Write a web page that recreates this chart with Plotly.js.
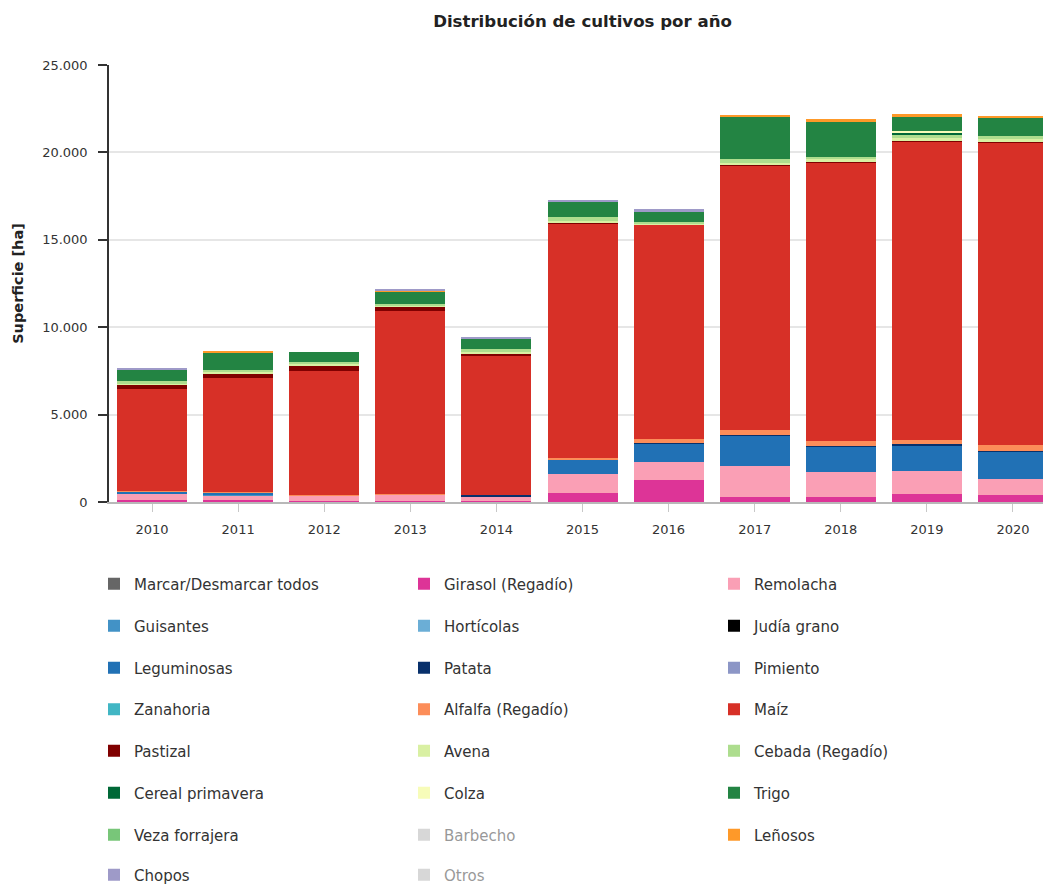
<!DOCTYPE html>
<html>
<head>
<meta charset="utf-8">
<script src="https://cdn.plot.ly/plotly-3.0.1.min.js"></script>
<style>
html,body{margin:0;padding:0;overflow:hidden;background:#fff;}
#chart{width:1070px;height:884px;}
</style>
</head>
<body>
<div id="chart"></div>
<script>
// ---- data ----
const years = ['2010','2011','2012','2013','2014','2015','2016','2017','2018','2019','2020'];

const girasol      = [90, 100, 50, 50, 70, 530, 1270, 275, 275, 430, 410];
const remolacha    = [380, 300, 300, 360, 260, 1070, 1010, 1775, 1430, 1335, 895];
const guisantes    = [40, 45, 0, 0, 0, 0, 0, 0, 0, 0, 0];
const horticolas   = [0, 0, 0, 0, 0, 0, 0, 0, 0, 0, 0];
const judia        = [0, 0, 0, 0, 0, 0, 0, 0, 0, 0, 0];
const leguminosas  = [70, 70, 0, 0, 0, 800, 1070, 1775, 1455, 1490, 1585];
const patata       = [0, 0, 0, 0, 55, 0, 40, 30, 35, 55, 55];
const pimiento     = [0, 0, 0, 0, 0, 0, 0, 0, 0, 0, 0];
const zanahoria    = [0, 0, 0, 0, 0, 0, 0, 0, 0, 0, 0];
const alfalfa      = [60, 40, 55, 30, 0, 115, 230, 270, 270, 250, 325];
const maiz         = [5850, 6560, 7100, 10475, 8015, 13390, 12250, 15130, 15970, 17035, 17300];
const pastizal     = [230, 210, 285, 245, 75, 60, 0, 40, 60, 60, 75];
const avena        = [80, 90, 100, 80, 100, 120, 60, 125, 100, 145, 110];
const cebada       = [110, 115, 145, 115, 150, 200, 90, 200, 150, 200, 160];
const cerealPrim   = [0, 0, 0, 0, 0, 0, 0, 0, 0, 115, 0];
const colza        = [0, 0, 0, 0, 0, 0, 0, 0, 0, 95, 0];
const trigo        = [670, 1010, 560, 705, 650, 860, 595, 2400, 2020, 840, 1070];
const veza         = [0, 0, 0, 0, 0, 0, 0, 0, 0, 0, 0];
const barbecho     = [null, null, null, null, null, null, null, null, null, null, null];
const lenosos      = [0, 95, 0, 55, 0, 0, 0, 115, 150, 135, 115];
const chopos       = [90, 0, 0, 95, 75, 135, 130, 0, 0, 0, 0];
const otros        = [null, null, null, null, null, null, null, null, null, null, null];
const todos        = [null, null, null, null, null, null, null, null, null, null, null];

// name, values, colour, legend row, hidden
const series = [
  ['Marcar/Desmarcar todos', todos, '#666666', 1, false],
  ['Girasol (Regadío)', girasol, '#dd3497', 1, false],
  ['Remolacha', remolacha, '#fa9fb5', 1, false],
  ['Guisantes', guisantes, '#4292c6', 2, false],
  ['Hortícolas', horticolas, '#6baed6', 2, false],
  ['Judía grano', judia, '#000000', 2, false],
  ['Leguminosas', leguminosas, '#2171b5', 3, false],
  ['Patata', patata, '#08306b', 3, false],
  ['Pimiento', pimiento, '#8c96c6', 3, false],
  ['Zanahoria', zanahoria, '#41b6c4', 4, false],
  ['Alfalfa (Regadío)', alfalfa, '#fc8d59', 4, false],
  ['Maíz', maiz, '#d73027', 4, false],
  ['Pastizal', pastizal, '#800000', 5, false],
  ['Avena', avena, '#d9f0a3', 5, false],
  ['Cebada (Regadío)', cebada, '#addd8e', 5, false],
  ['Cereal primavera', cerealPrim, '#006837', 6, false],
  ['Colza', colza, '#f7fcb9', 6, false],
  ['Trigo', trigo, '#238443', 6, false],
  ['Veza forrajera', veza, '#78c679', 7, false],
  ['Barbecho', barbecho, '#b0b0b0', 7, true],
  ['Leñosos', lenosos, '#fe9929', 7, false],
  ['Chopos', chopos, '#9e9ac8', 8, false],
  ['Otros', otros, '#b0b0b0', 8, true]
];

const legKey = r => (r === 1 ? 'legend' : 'legend' + r);

const traces = series.map(s => ({
  type: 'bar',
  name: s[0],
  x: years,
  y: s[1],
  marker: {color: s[2], line: {width: 0}},
  legend: legKey(s[3]),
  visible: s[4] ? 'legendonly' : true,
  showlegend: true,
  hovertemplate: '%{x}: %{y:,.0f} ha<extra>' + s[0] + '</extra>'
}));

// ---- layout ----
const plotTop = 65, plotBottom = 502, plotH = plotBottom - plotTop;
const rowPix = [584, 626, 668, 709.5, 751, 793, 835, 875];
const plotLeft = 109, plotW = 947;
const legendLeftPix = 94;

const layout = {
  width: 1070,
  height: 884,
  margin: {l: plotLeft, r: 1070 - plotLeft - plotW, t: plotTop, b: 884 - plotBottom, autoexpand: false},
  paper_bgcolor: '#ffffff',
  plot_bgcolor: '#ffffff',
  separators: ',.',
  barmode: 'stack',
  bargap: 0.187,
  font: {family: 'DejaVu Sans, Verdana, sans-serif', color: '#333333', size: 13},
  title: {
    text: '<b>Distribución de cultivos por año</b>',
    font: {family: 'DejaVu Sans, Verdana, sans-serif', size: 16.6, color: '#222222'},
    xref: 'paper', x: 0.5, xanchor: 'center',
    yref: 'container', y: 1 - 21 / 884, yanchor: 'middle'
  },
  xaxis: {
    type: 'category',
    showline: true, linecolor: '#b8b8b8', linewidth: 2,
    ticks: 'outside', ticklen: 8, tickcolor: '#c8c8c8', tickwidth: 1,
    tickfont: {size: 13, color: '#333333'},
    ticklabelstandoff: 6,
    showgrid: false, zeroline: false,
    fixedrange: true
  },
  yaxis: {
    range: [0, 25000],
    tickvals: [0, 5000, 10000, 15000, 20000, 25000],
    tickformat: ',d',
    showline: true, linecolor: '#333333', linewidth: 1.5,
    ticks: 'outside', ticklen: 9, tickcolor: '#333333', tickwidth: 1.5,
    tickfont: {size: 13, color: '#333333'},
    ticklabelstandoff: 8,
    showgrid: true, gridcolor: '#e6e6e6', gridwidth: 2,
    zeroline: false,
    title: {text: '<b>Superficie [ha]</b>', font: {size: 14.5, color: '#222222'}, standoff: 15},
    fixedrange: true
  },
  showlegend: true
};

rowPix.forEach((py, i) => {
  layout[legKey(i + 1)] = {
    orientation: 'h',
    entrywidth: 265,
    entrywidthmode: 'pixels',
    xref: 'paper', yref: 'paper',
    x: (legendLeftPix - plotLeft) / plotW,
    xanchor: 'left',
    y: (plotBottom - py) / plotH,
    yanchor: 'middle',
    traceorder: 'normal',
    bgcolor: 'rgba(0,0,0,0)',
    borderwidth: 0,
    font: {size: 15, color: '#333333', family: 'DejaVu Sans, Verdana, sans-serif'}
  };
});

Plotly.newPlot('chart', traces, layout, {displayModeBar: false, responsive: false});
</script>
</body>
</html>
